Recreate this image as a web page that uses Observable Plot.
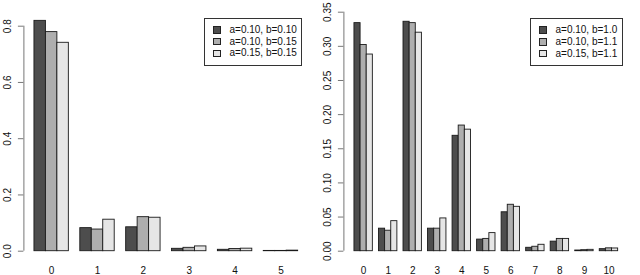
<!DOCTYPE html>
<html>
<head>
<meta charset="utf-8">
<script src="https://cdn.jsdelivr.net/npm/d3@7"></script>
<script src="https://cdn.jsdelivr.net/npm/@observablehq/plot@0.6"></script>
<style>
  html, body { margin: 0; padding: 0; background: #fff; }
  #wrap { display: flex; width: 640px; height: 275px; font-family: "Liberation Sans", Arial, Helvetica, sans-serif; }
  .panel { position: relative; width: 320px; height: 275px; }
  .legend { position: absolute; box-sizing: border-box; border: 1px solid #333; background: #fff;
            padding: 5.5px 0 0 0; font-size: 10px; color: #111; }
  .legend .row { position: relative; height: 11.7px; line-height: 11.7px; white-space: nowrap; }
  .legend .sw { position: absolute; left: 8px; top: 2.2px; width: 7.5px; height: 7.5px; box-sizing: border-box; border: 1px solid #222; }
  .legend .lab { position: absolute; left: 24.5px; top: 0; }
</style>
</head>
<body>
<div id="wrap">
  <div class="panel" id="left"></div>
  <div class="panel" id="right"></div>
</div>
<script>
// ---------- data ----------
const leftGroups = ["0", "1", "2", "3", "4", "5"];
const leftSeries = ["a=0.10, b=0.10", "a=0.10, b=0.15", "a=0.15, b=0.15"];
const leftS1 = [0.819, 0.082, 0.085, 0.0085, 0.005, 0.001];
const leftS2 = [0.779, 0.077, 0.121, 0.012, 0.008, 0.001];
const leftS3 = [0.741, 0.112, 0.119, 0.017, 0.009, 0.002];
const leftYTicks = [0, 0.2, 0.4, 0.6, 0.8];

const rightGroups = ["0", "1", "2", "3", "4", "5", "6", "7", "8", "9", "10"];
const rightSeries = ["a=0.10, b=1.0", "a=0.10, b=1.1", "a=0.15, b=1.1"];
const rightS1 = [0.334, 0.033, 0.336, 0.033, 0.169, 0.017, 0.057, 0.005, 0.014, 0.001, 0.003];
const rightS2 = [0.302, 0.030, 0.334, 0.033, 0.184, 0.018, 0.068, 0.0065, 0.018, 0.0015, 0.0042];
const rightS3 = [0.288, 0.044, 0.320, 0.048, 0.178, 0.0265, 0.065, 0.0094, 0.018, 0.002, 0.004];
const rightYTicks = [0, 0.05, 0.10, 0.15, 0.20, 0.25, 0.30, 0.35];

const greys = ["#4D4D4D", "#AEAEAE", "#E6E6E6"];

// ---------- drawing ----------
function barChart(el, groups, series, values, yTicks, decimals) {
  // R barplot(beside=TRUE) layout: each bar = 1 unit, 1 unit gap before each group
  const rows = [];
  groups.forEach((g, gi) => {
    series.forEach((s, si) => {
      rows.push({g, s, v: values[si][gi], x1: 1 + 4 * gi + si, x2: 2 + 4 * gi + si});
    });
  });
  const lo = 1, hi = 4 * groups.length;
  const ext = 0.04 * (hi - lo);
  const xmin = lo - ext, xmax = hi + ext;
  const ytop = yTicks[yTicks.length - 1];
  const fmt = d3.format("." + decimals + "f");
  const chart = Plot.plot({
    width: 320,
    height: 275,
    marginLeft: 23.4,
    marginRight: 11.8,
    marginTop: decimals === 1 ? 25.7 : 11.7,
    marginBottom: 24.3,
    style: {fontFamily: '"Liberation Sans", Arial, Helvetica, sans-serif', fontSize: "10px", color: "#111", background: "#fff"},
    x: {domain: [xmin, xmax], axis: null},
    y: {domain: [0, ytop], axis: null},
    color: {domain: series, range: greys},
    marks: [
      Plot.rect(rows, {x1: "x1", x2: "x2", y1: () => 0, y2: "v", fill: "s", stroke: "#1a1a1a", strokeWidth: 0.9}),
      Plot.ruleX([xmin], {y1: () => 0, y2: () => ytop, stroke: "#777", strokeWidth: 1}),
      Plot.axisY(yTicks, {anchor: "left", label: null, tickSize: 5.5, tickFormat: () => "", stroke: "#777"}),
      Plot.text(yTicks, {x: () => xmin, y: d => d, text: d => fmt(d), rotate: -90, dx: -16.5, fill: "#111"}),
      Plot.text(groups, {x: (g, i) => 2.5 + 4 * i, y: () => 0, text: d => d, dy: 19.3, fill: "#111"})
    ]
  });
  el.appendChild(chart);
}

function legend(el, series, box) {
  const div = document.createElement("div");
  div.className = "legend";
  Object.assign(div.style, {left: box.left + "px", top: box.top + "px", width: box.width + "px", height: box.height + "px"});
  series.forEach((s, i) => {
    const row = document.createElement("div");
    row.className = "row";
    const sw = document.createElement("span");
    sw.className = "sw";
    sw.style.background = greys[i];
    const lab = document.createElement("span");
    lab.className = "lab";
    lab.textContent = s;
    row.appendChild(sw);
    row.appendChild(lab);
    div.appendChild(row);
  });
  el.appendChild(div);
}

const L = document.getElementById("left");
const R = document.getElementById("right");
barChart(L, leftGroups, leftSeries, [leftS1, leftS2, leftS3], leftYTicks, 1);
barChart(R, rightGroups, rightSeries, [rightS1, rightS2, rightS3], rightYTicks, 2);
legend(L, leftSeries, {left: 204, top: 17.5, width: 97.5, height: 48.5});
legend(R, rightSeries, {left: 210, top: 17.7, width: 92.5, height: 48.5});
</script>
</body>
</html>
